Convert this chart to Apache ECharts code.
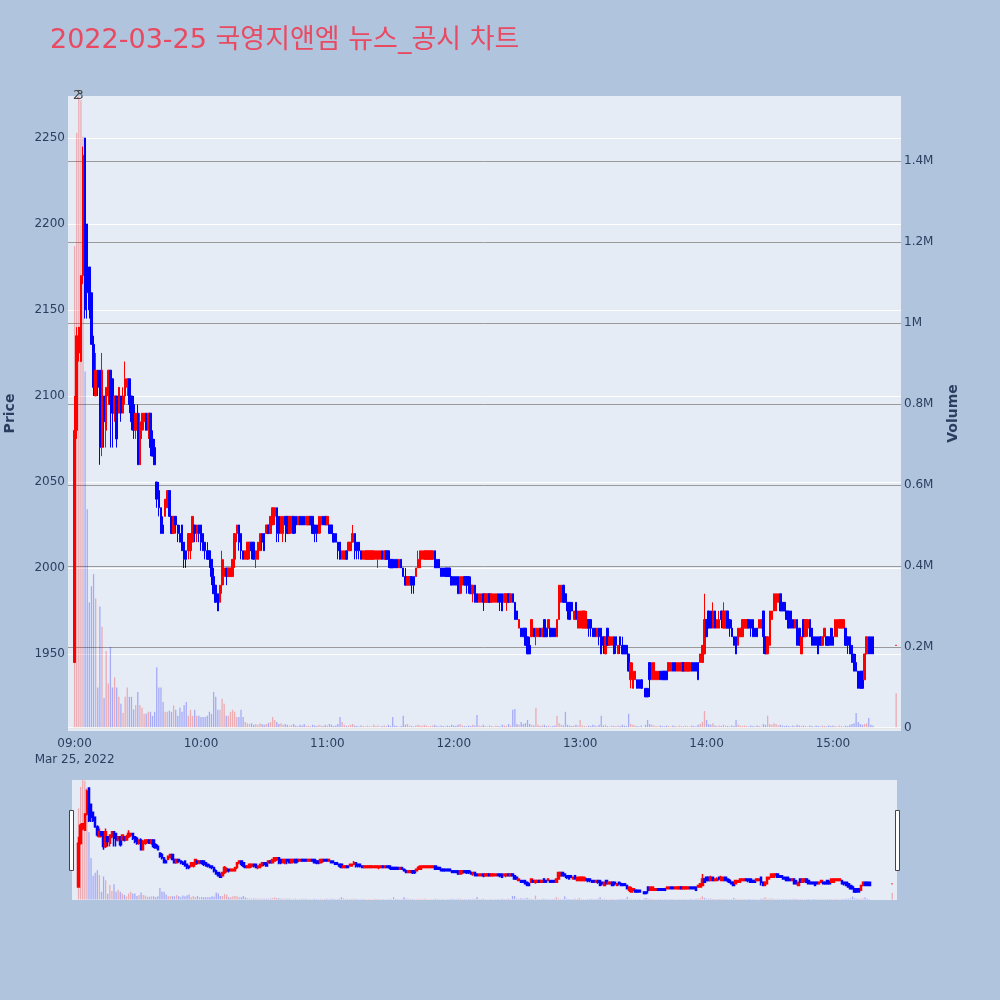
<!DOCTYPE html>
<html>
<head>
<meta charset="utf-8">
<script src="https://cdn.jsdelivr.net/npm/echarts/dist/echarts.min.js"></script>
<style>
html, body { margin: 0; padding: 0; background: #b0c4de; }
#chart { width: 1000px; height: 1000px; }
</style>
</head>
<body>
<div id="chart"></div>
<script>
// one row per minute: [open, close, low, high, volume (thousand shares)]
const bars09 = [
  [1945,2080,1945,2100,1190],[2080,2135,2075,2140,1470],[2125,2140,2120,2140,1560],[2120,2170,2120,2170,1550],[2170,2240,2165,2245,1460],
  [2250,2150,2145,2250,880],[2200,2160,2145,2200,540],[2175,2150,2145,2175,310],[2160,2130,2130,2160,350],[2130,2105,2100,2135,380],
  [2100,2115,2100,2125,320],[2115,2105,2100,2115,100],[2115,2070,2060,2115,300],[2070,2115,2065,2125,250],[2100,2085,2070,2100,74],
  [2080,2105,2070,2105,190],[2100,2115,2095,2115,110],[2115,2095,2070,2115,200],[2110,2090,2070,2110,100],[2090,2100,2085,2100,125],
  [2100,2075,2070,2100,100],[2090,2105,2090,2105,77],[2100,2090,2085,2100,60],[2090,2100,2090,2105,37],[2100,2110,2095,2120,77],
  [2105,2110,2100,2110,100],[2110,2095,2090,2110,77],[2100,2085,2080,2100,77],[2095,2080,2075,2100,46],[2080,2090,2075,2090,57],
  [2090,2060,2060,2095,89],[2060,2085,2060,2090,57],[2080,2090,2075,2090,50],[2085,2090,2080,2090,35],[2090,2080,2080,2090,35],
  [2080,2090,2075,2090,40],[2090,2070,2065,2090,40],[2075,2065,2065,2080,30],[2070,2060,2060,2075,40],[2050,2040,2035,2050,150],
  [2045,2035,2030,2050,100],[2035,2020,2020,2035,100],[2025,2020,2020,2030,64],[2030,2040,2030,2040,40],[2035,2045,2035,2045,40],
  [2045,2030,2030,2045,43],[2030,2020,2020,2030,40],[2020,2030,2020,2030,56],[2030,2025,2020,2030,45],[2025,2020,2015,2025,30],
  [2020,2015,2015,2025,50],[2025,2010,2010,2025,40],[2015,2005,2000,2015,56],[2010,2005,2000,2010,64],[2010,2020,2005,2020,30],
  [2010,2020,2005,2020,45],[2015,2030,2015,2030,30],[2025,2020,2015,2025,45],[2020,2025,2015,2025,30],[2025,2020,2015,2025,30]
];
const bars10 = [
  [2025,2015,2010,2025,27],[2020,2010,2010,2020,27],[2015,2010,2005,2015,27],[2010,2005,2005,2015,30],[2010,2005,2000,2010,40],
  [2005,1995,1990,2005,35],[1995,1985,1985,2000,89],[1990,1980,1980,1990,77],[1985,1975,1975,1985,45],[1980,1990,1980,1990,45],
  [1990,2005,1985,2010,72],[1995,2000,1990,2005,60],[2000,1995,1990,2000,30],[1995,2000,1995,2000,30],[1995,2000,1995,2000,40],
  [1995,2005,1995,2005,45],[2005,2020,2000,2020,40],[2020,2025,2015,2025,27],[2025,2015,2010,2025,27],[2020,2010,2005,2020,45],
  [2010,2005,2005,2010,27],[2005,2010,2005,2010,15],[2005,2015,2005,2015,12],[2010,2015,2005,2015,10],[2015,2010,2005,2015,12],
  [2015,2005,2005,2015,8],[2005,2010,2000,2010,10],[2005,2015,2005,2015,8],[2010,2020,2010,2020,12],[2020,2015,2010,2020,10],
  [2020,2010,2010,2020,8],[2020,2025,2020,2025,10],[2025,2020,2020,2025,12],[2020,2030,2020,2030,15],[2025,2035,2025,2035,27],
  [2030,2035,2025,2035,20],[2035,2020,2015,2035,15],[2030,2020,2015,2030,10],[2020,2030,2020,2030,12],[2020,2030,2015,2030,8],
  [2030,2025,2015,2030,10],[2030,2020,2020,2030,8],[2020,2030,2020,2030,6],[2025,2030,2020,2030,8],[2030,2020,2020,2030,10],
  [2030,2025,2020,2030,6],[2025,2030,2025,2030,5],[2030,2025,2025,2030,8],[2030,2025,2025,2030,6],[2030,2025,2025,2030,10],
  [2025,2030,2025,2030,5],[2025,2030,2025,2030,6],[2030,2025,2025,2030,4],[2030,2020,2020,2030,8],[2025,2020,2015,2025,6],
  [2025,2020,2015,2025,5],[2020,2030,2020,2030,8],[2025,2030,2020,2030,6],[2030,2025,2025,2030,5],[2030,2025,2025,2030,8]
];
const bars11 = [
  [2025,2030,2025,2030,6],[2025,2020,2020,2025,10],[2025,2020,2020,2025,8],[2020,2015,2015,2020,5],[2020,2015,2015,2020,6],
  [2015,2010,2005,2015,10],[2015,2005,2005,2015,27],[2005,2010,2005,2010,15],[2005,2010,2005,2010,8],[2010,2005,2005,2010,5],
  [2010,2015,2010,2015,6],[2010,2015,2010,2015,8],[2015,2020,2015,2025,10],[2020,2010,2005,2020,6],[2015,2010,2005,2015,5],
  [2015,2010,2005,2015,4],[2010,2005,2005,2010,6],[2005,2010,2005,2010,5],[2005,2010,2005,2010,4],[2005,2010,2005,2010,6],
  [2005,2010,2005,2010,5],[2005,2010,2005,2010,4],[2005,2010,2005,2010,8],[2005,2010,2005,2010,5],[2005,2010,2000,2010,6],
  [2005,2010,2005,2010,4],[2010,2005,2005,2010,5],[2005,2010,2005,2010,6],[2010,2005,2005,2010,4],[2010,2005,2000,2010,8],
  [2005,2000,2000,2005,5],[2005,2000,2000,2005,27],[2005,2000,2000,2005,6],[2005,2000,2000,2005,5],[2000,2005,2000,2005,4],
  [2005,2000,2000,2005,5],[2000,1995,1995,2000,30],[1995,1990,1990,2000,8],[1990,1995,1990,1995,10],[1990,1995,1990,1995,6],
  [1995,1990,1985,1995,5],[1995,1990,1985,1995,4],[1995,2000,1995,2000,6],[2000,2005,2000,2010,8],[2000,2010,2000,2010,6],
  [2005,2010,2005,2010,5],[2005,2010,2005,2010,8],[2005,2010,2005,2010,6],[2005,2010,2005,2010,4],[2005,2010,2005,2010,5],
  [2005,2010,2005,2010,6],[2010,2000,2000,2010,8],[2005,2000,2000,2005,5],[2005,2000,2000,2005,4],[2000,1995,1995,2000,6],
  [2000,1995,1995,2000,5],[2000,1995,1995,2000,4],[2000,1995,1995,2000,6],[2000,1995,1995,2000,5],[1995,1990,1990,1995,8]
];
const bars12 = [
  [1995,1990,1990,1995,6],[1995,1990,1990,1995,5],[1995,1985,1985,1995,8],[1985,1995,1985,1995,10],[1990,1995,1985,1995,6],
  [1995,1990,1990,1995,5],[1995,1990,1985,1995,4],[1995,1990,1985,1995,6],[1990,1985,1985,1995,5],[1985,1990,1980,1990,8],
  [1990,1980,1980,1990,6],[1985,1980,1980,1985,32],[1980,1985,1980,1985,6],[1980,1985,1980,1985,5],[1985,1980,1975,1985,8],
  [1980,1985,1980,1985,5],[1980,1985,1980,1985,4],[1985,1980,1980,1985,6],[1980,1985,1980,1985,5],[1980,1985,1980,1985,4],
  [1980,1985,1980,1985,6],[1985,1980,1980,1985,5],[1985,1980,1975,1985,4],[1985,1975,1975,1985,8],[1980,1985,1980,1985,6],
  [1980,1985,1975,1985,5],[1985,1980,1980,1985,10],[1980,1985,1980,1985,6],[1985,1980,1980,1985,45],[1980,1970,1970,1980,47],
  [1975,1970,1970,1975,10],[1965,1970,1965,1970,8],[1965,1960,1960,1965,15],[1965,1960,1960,1965,10],[1965,1955,1955,1965,12],
  [1960,1950,1950,1960,20],[1955,1950,1950,1960,10],[1960,1970,1960,1970,8],[1965,1960,1960,1965,6],[1960,1965,1955,1965,50],
  [1960,1965,1960,1965,8],[1965,1960,1960,1965,5],[1960,1965,1960,1965,6],[1970,1960,1960,1970,8],[1965,1960,1960,1965,5],
  [1965,1970,1965,1970,6],[1965,1960,1960,1965,4],[1965,1960,1960,1965,5],[1965,1960,1960,1965,6],[1960,1970,1960,1970,30],
  [1970,1990,1970,1990,12],[1980,1990,1980,1990,8],[1990,1980,1980,1990,6],[1985,1980,1980,1985,40],[1980,1975,1970,1980,8],
  [1980,1970,1970,1980,6],[1980,1975,1975,1980,5],[1970,1975,1970,1975,6],[1980,1970,1970,1980,8],[1965,1975,1965,1975,6]
];
const bars13 = [
  [1965,1975,1965,1975,20],[1965,1975,1965,1975,6],[1965,1975,1965,1975,5],[1965,1970,1965,1975,4],[1970,1965,1960,1970,6],
  [1970,1965,1960,1970,5],[1965,1960,1960,1965,8],[1965,1960,1960,1965,6],[1960,1965,1960,1965,5],[1965,1960,1955,1965,8],
  [1965,1950,1950,1965,30],[1960,1955,1950,1960,6],[1950,1960,1950,1960,8],[1965,1955,1955,1965,5],[1955,1960,1955,1960,4],
  [1955,1960,1955,1960,6],[1960,1950,1950,1960,5],[1960,1955,1950,1960,4],[1950,1955,1950,1955,6],[1960,1955,1950,1960,5],
  [1955,1950,1950,1960,8],[1955,1950,1950,1955,6],[1955,1950,1950,1955,5],[1950,1940,1940,1950,35],[1935,1945,1930,1945,10],
  [1930,1940,1930,1945,8],[1935,1940,1935,1940,6],[1935,1930,1930,1935,5],[1935,1930,1930,1935,4],[1935,1930,1930,1935,6],
  null,[1930,1925,1925,1930,8],[1930,1925,1925,1930,20],[1945,1935,1925,1945,10],[1935,1945,1935,1945,8],
  [1935,1945,1935,1945,6],[1935,1940,1935,1940,5],[1935,1940,1935,1940,4],[1940,1935,1935,1940,6],[1940,1935,1935,1940,5],
  [1940,1935,1935,1940,4],[1940,1935,1935,1940,6],[1940,1945,1940,1945,5],[1940,1945,1940,1945,4],[1945,1940,1940,1945,6],
  [1945,1940,1940,1945,5],[1940,1945,1940,1945,4],[1940,1945,1940,1945,6],[1940,1945,1940,1945,5],[1945,1940,1940,1945,4],
  [1940,1945,1940,1945,6],[1940,1945,1940,1945,5],[1940,1945,1940,1945,4],[1945,1940,1940,1945,6],[1945,1940,1940,1945,5],
  [1945,1940,1940,1945,4],[1945,1935,1935,1945,8],[1945,1950,1945,1950,10],[1945,1955,1945,1955,15],[1950,1970,1950,1985,42]
];
const bars14 = [
  [1970,1960,1960,1970,20],[1975,1965,1965,1975,10],[1975,1965,1965,1975,8],[1965,1975,1965,1980,12],[1975,1965,1965,1975,6],
  [1965,1970,1965,1970,5],[1965,1970,1965,1975,6],[1975,1970,1965,1975,5],[1965,1975,1965,1980,8],[1965,1975,1965,1975,6],
  [1975,1965,1965,1975,5],[1970,1965,1960,1970,4],[1965,1960,1960,1970,6],[1960,1955,1955,1960,5],[1960,1950,1950,1960,20],
  [1955,1965,1955,1965,8],[1960,1965,1960,1965,6],[1960,1970,1960,1970,5],[1965,1970,1965,1970,6],[1965,1970,1965,1970,5],
  [1970,1965,1965,1970,4],[1970,1965,1960,1970,6],[1970,1960,1960,1970,5],[1965,1960,1960,1965,4],[1965,1960,1960,1965,6],
  [1965,1970,1965,1970,5],[1965,1970,1965,1970,4],[1975,1960,1950,1975,10],[1960,1950,1950,1960,8],[1950,1960,1950,1960,30],
  [1955,1975,1955,1975,10],[1970,1975,1970,1975,8],[1975,1985,1975,1985,12],[1975,1985,1975,1985,10],[1980,1985,1980,1985,6],
  [1985,1975,1975,1985,8],[1980,1975,1975,1980,6],[1980,1975,1975,1980,5],[1975,1970,1970,1975,6],[1975,1965,1965,1975,5],
  [1975,1965,1965,1975,4],[1970,1965,1965,1970,6],[1965,1970,1965,1970,5],[1970,1955,1955,1970,8],[1965,1955,1955,1965,6],
  [1950,1960,1950,1960,5],[1970,1960,1960,1970,6],[1960,1970,1960,1970,5],[1965,1970,1960,1970,4],[1970,1960,1960,1970,6],
  [1965,1955,1955,1965,5],[1960,1955,1955,1960,4],[1960,1955,1955,1960,6],[1960,1950,1950,1960,5],[1960,1955,1955,1960,4],
  [1955,1960,1955,1960,6],[1960,1965,1960,1965,5],[1960,1955,1955,1960,4],[1960,1955,1955,1960,6],[1965,1955,1955,1965,5]
];
const bars15 = [
  [1960,1955,1955,1965,6],[1960,1970,1960,1970,5],[1960,1970,1960,1970,4],[1965,1970,1965,1970,6],[1965,1970,1965,1970,5],
  [1965,1970,1965,1970,4],[1965,1955,1955,1965,6],[1960,1955,1950,1960,5],[1960,1950,1950,1960,8],[1955,1945,1945,1955,10],
  [1950,1940,1940,1950,12],[1945,1940,1940,1950,37],[1940,1930,1930,1940,15],[1940,1930,1930,1940,10],[1940,1930,1930,1940,8],
  [1935,1950,1935,1950,10],[1950,1960,1950,1960,12],[1960,1950,1950,1960,25],[1960,1950,1950,1960,8],[1960,1950,1950,1960,6],
  null,null,null,null,null,null,null,null,null,null,
  [1955,1955,1955,1955,86]
];

// news markers at the top of the chart
const newsTimes = ['09:01:00', '09:02:30'];
const newsCounts = [2, 3];

const priceRange = [1905.2, 2274.4];
const volumeRange = [-7400, 1560500];

const upColor = '#ff0000';
const downColor = '#0000ff';
const volUp = 'rgba(255,0,0,0.28)';
const volDown = 'rgba(0,0,255,0.28)';
const textColor = '#2a3f5f';
const fontFamily = "'DejaVu Sans', 'Noto Sans CJK KR', sans-serif";

const dayStart = new Date(2022, 2, 25, 9, 0, 0).getTime();
const xMin = dayStart - 3.13 * 60000;
const xMax = dayStart + 392.3 * 60000;

function clock(str) {
  const p = str.split(':').map(Number);
  return new Date(2022, 2, 25, p[0], p[1], p[2] || 0).getTime();
}

const candles = [];
const volumes = [];
[bars09, bars10, bars11, bars12, bars13, bars14, bars15].forEach((rows, h) => {
  rows.forEach((r, i) => {
    if (!r) return;
    const t = dayStart + (h * 60 + i) * 60000;
    candles.push([t, r[0], r[1], r[2], r[3]]);
    volumes.push([t, r[4] * 1000, r[1] >= r[0] ? 1 : 0]);
  });
});

// volume bars drawn through the axes (a plain bar series would stretch the time axis)
function volumeBar(params, api) {
  const top = api.coord([api.value(0), api.value(1)]);
  const base = api.coord([api.value(0), 0]);
  const w = 1.3;
  return {
    type: 'rect',
    shape: { x: top[0] - w / 2, y: top[1], width: w, height: base[1] - top[1] },
    style: { fill: api.value(2) ? volUp : volDown }
  };
}

const candleStyle = {
  color: upColor, color0: downColor,
  borderColor: upColor, borderColor0: downColor, borderColorDoji: upColor,
  borderWidth: 1
};

const chart = echarts.init(document.getElementById('chart'));
chart.setOption({
  animation: false,
  backgroundColor: '#b0c4de',
  title: {
    text: '2022-03-25 국영지앤엠 뉴스_공시 차트',
    left: 45, top: 22,
    textStyle: { color: '#e84a62', fontSize: 27, fontWeight: 'normal', fontFamily: fontFamily }
  },
  grid: [
    { left: 68, right: 99, top: 96, height: 635, show: true, backgroundColor: '#e5ecf6', borderWidth: 0,
      containLabel: false, outerBoundsMode: 'none' },
    { left: 72, right: 103, top: 780, height: 120, show: true, backgroundColor: '#e5ecf6', borderWidth: 0,
      containLabel: false, outerBoundsMode: 'none' }
  ],
  xAxis: [
    {
      type: 'time', gridIndex: 0, min: xMin, max: xMax,
      minInterval: 3600000, maxInterval: 3600000,
      axisLine: { show: false }, axisTick: { show: false }, splitLine: { show: false },
      axisLabel: {
        color: textColor, fontSize: 12, fontFamily: fontFamily, margin: 5, lineHeight: 16,
        showMinLabel: false, showMaxLabel: false,
        formatter: function (v) {
          const d = new Date(v);
          if (d.getMinutes() !== 0) return '';
          const s = String(d.getHours()).padStart(2, '0') + ':00';
          return d.getHours() === 9 ? s + '\nMar 25, 2022' : s;
        }
      }
    },
    { type: 'time', gridIndex: 1, min: xMin, max: xMax, show: false }
  ],
  yAxis: [
    {
      type: 'value', gridIndex: 0, position: 'left', min: priceRange[0], max: priceRange[1], splitNumber: 7,
      name: 'Price', nameLocation: 'middle', nameGap: 51,
      nameTextStyle: { color: textColor, fontSize: 14, fontWeight: 'bold', fontFamily: fontFamily },
      axisLine: { show: false }, axisTick: { show: false },
      axisLabel: {
        color: textColor, fontSize: 12, fontFamily: fontFamily, margin: 3, showMinLabel: false, showMaxLabel: false,
        formatter: v => String(v)
      },
      splitLine: { show: true, showMinLine: false, showMaxLine: false, lineStyle: { color: '#ffffff', width: 1 } }
    },
    {
      type: 'value', gridIndex: 0, position: 'right', min: volumeRange[0], max: volumeRange[1], splitNumber: 7,
      name: 'Volume', nameLocation: 'middle', nameGap: 45,
      nameTextStyle: { color: textColor, fontSize: 14, fontWeight: 'bold', fontFamily: fontFamily },
      axisLine: { show: false }, axisTick: { show: false },
      axisLabel: {
        color: textColor, fontSize: 12, fontFamily: fontFamily, margin: 3, showMinLabel: false, showMaxLabel: false,
        formatter: v => v === 0 ? '0' : (v / 1e6) + 'M'
      },
      splitLine: { show: true, showMinLine: false, showMaxLine: false, lineStyle: { color: '#9a9a9a', width: 1 } }
    },
    { type: 'value', gridIndex: 1, min: priceRange[0], max: priceRange[1], show: false },
    { type: 'value', gridIndex: 1, min: volumeRange[0], max: volumeRange[1], show: false }
  ],
  series: [
    {
      name: 'Volume', type: 'custom', xAxisIndex: 0, yAxisIndex: 1, data: volumes,
      encode: { x: 0, y: 1 }, renderItem: volumeBar, clip: true, z: 1,
      markLine: {
        silent: true, symbol: 'none', label: { show: false },
        lineStyle: { color: '#ffffff', width: 1.5, type: 'solid' },
        data: [{ yAxis: 0 }]
      }
    },
    {
      name: 'Price', type: 'candlestick', xAxisIndex: 0, yAxisIndex: 0, data: candles,
      barWidth: 2, itemStyle: candleStyle, z: 3,
      markPoint: {
        symbol: 'rect', symbolSize: 1, itemStyle: { color: 'rgba(0,0,0,0)' },
        label: { show: true, position: 'inside', color: '#444', fontSize: 12, fontFamily: fontFamily, formatter: '{c}' },
        data: newsTimes.map((t, i) => ({ coord: [clock(t), priceRange[1]], value: newsCounts[i] }))
      }
    },
    {
      type: 'custom', xAxisIndex: 1, yAxisIndex: 3, data: volumes,
      encode: { x: 0, y: 1 }, renderItem: volumeBar, clip: true, z: 1
    },
    {
      type: 'candlestick', xAxisIndex: 1, yAxisIndex: 2, data: candles,
      barWidth: 2, itemStyle: Object.assign({}, candleStyle, { borderWidth: 1.5 }), z: 3
    }
  ],
  graphic: [
    { type: 'rect', shape: { x: 69.5, y: 810.5, width: 4, height: 60 }, style: { fill: '#ffffff', stroke: '#444444', lineWidth: 1 } },
    { type: 'rect', shape: { x: 895.5, y: 810.5, width: 4, height: 60 }, style: { fill: '#ffffff', stroke: '#444444', lineWidth: 1 } }
  ]
});
</script>
</body>
</html>
